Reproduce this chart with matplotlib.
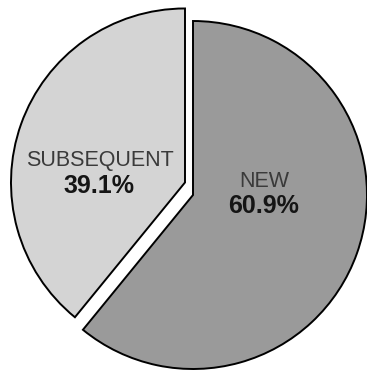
import numpy as np
import matplotlib
matplotlib.use("Agg")
import matplotlib.pyplot as plt

categories = ["NEW", "SUBSEQUENT"]
values = [60.9, 39.1]
colors = ["#9a9a9a", "#d4d4d4"]

plt.rcParams['font.family'] = ['Liberation Sans', 'DejaVu Sans']

fig = plt.figure(figsize=(3.67, 3.70), dpi=100)
ax = fig.add_axes([0, 0, 1, 1])
wedges, _ = ax.pie(values, colors=colors, startangle=90, counterclock=False,
                   wedgeprops=dict(edgecolor="black", linewidth=1.4))
# shift the SUBSEQUENT slice out (exploded)
off = (-0.046, 0.072)
w = wedges[1]
w.set_center((w.center[0] + off[0], w.center[1] + off[1]))
ax.set_xlim(-193/174, (367-193)/174)
ax.set_ylim(-(370-195)/174, 195/174)
ax.set_aspect('auto')
ax.axis('off')

label_pos = {"NEW": (0.408, 0.075), "SUBSEQUENT": (-0.489 + off[0], 0.126 + off[1])}
pct_pos = {"NEW": (0.408, -0.063), "SUBSEQUENT": (-0.494 + off[0], -0.023 + off[1])}
for c, v in zip(categories, values):
    ax.text(*label_pos[c], c, ha='center', va='center', fontsize=15.5, color='#3a3a3a')
    ax.text(*pct_pos[c], f"{v:.1f}%", ha='center', va='center', fontsize=18,
            fontweight='bold', color='#151515')

fig.savefig("out.png", dpi=100)
